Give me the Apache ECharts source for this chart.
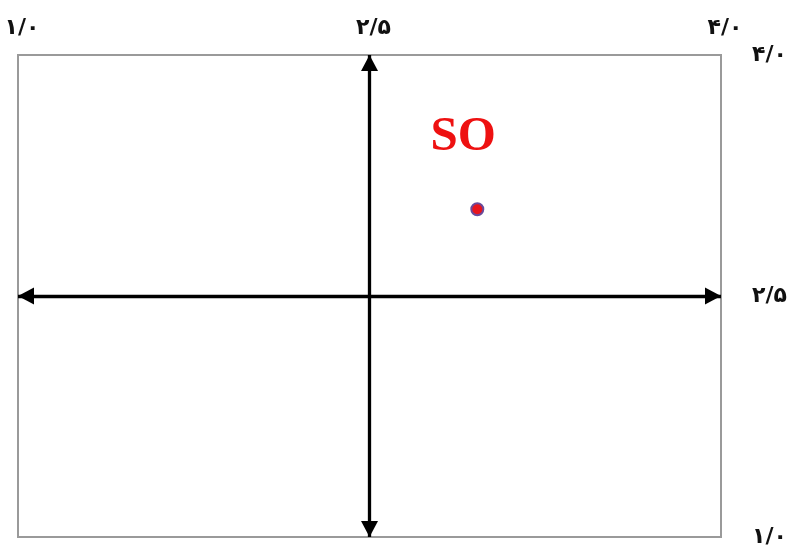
<!DOCTYPE html>
<html><head><meta charset="utf-8">
<script src="https://cdn.jsdelivr.net/npm/echarts@6/dist/echarts.min.js"></script>
<style>html,body{margin:0;padding:0;background:#fff}#c{width:790px;height:554px}</style>
</head><body><div id="c"></div>
<script>
const xTicks = [1.0, 2.5, 4.0];
const yTicks = [1.0, 2.5, 4.0];
const tickLabels = {"1": "۱/۰", "2.5": "۲/۵", "4": "۴/۰"};
const axisMin = 1.0, axisMax = 4.0;
const crossX = 2.5, crossY = 2.5;
const pointNames = ["SO"];
const pointX = [2.96];
const pointY = [3.04];

const fmt = v => tickLabels[String(+v)] || '';
const labelFont = {fontFamily: 'DejaVu Sans', fontWeight: 'bold', fontSize: 22, color: '#111'};
const arrowHead = 'path://M0,0 M0,10 L5,20 L-5,20 Z';

const chart = echarts.init(document.getElementById('c'), null, {renderer: 'canvas'});
chart.setOption({
  animation: false,
  grid: {left: 18, right: 69, top: 55, bottom: 17, outerBoundsMode: 'none', containLabel: false,
         show: true, borderColor: '#9a9a9a', borderWidth: 2, backgroundColor: '#fff'},
  xAxis: {
    type: 'value', position: 'top', min: axisMin, max: axisMax,
    axisLine: {show: false}, axisTick: {show: false}, splitLine: {show: false},
    axisLabel: Object.assign({customValues: xTicks, formatter: fmt, margin: 16, padding: [0, 0, 0, 8]}, labelFont)
  },
  yAxis: {
    type: 'value', position: 'right', min: axisMin, max: axisMax,
    axisLine: {show: false}, axisTick: {show: false}, splitLine: {show: false},
    axisLabel: Object.assign({customValues: yTicks, formatter: fmt, margin: 31, padding: [10, 0, 0, 0]}, labelFont)
  },
  series: [{
    type: 'scatter',
    data: pointX.map((x, i) => ({name: pointNames[i], value: [x, pointY[i]]})),
    symbolSize: 12,
    itemStyle: {color: '#e8141c', borderColor: '#6a4a9a', borderWidth: 2, opacity: 1},
    label: {
      show: true, formatter: '{b}', position: 'inside', offset: [-14, -72],
      fontFamily: 'Liberation Serif', fontWeight: 'bold', fontSize: 49, color: '#ee1111'
    },
    markLine: {
      silent: true, symbol: [arrowHead, arrowHead], symbolSize: [17, 32],
      lineStyle: {color: '#000', width: 3.3, type: 'solid'},
      itemStyle: {color: '#000'},
      label: {show: false},
      data: [
        [{coord: [axisMin, crossY]}, {coord: [axisMax, crossY]}],
        [{coord: [crossX, axisMin]}, {coord: [crossX, axisMax]}]
      ]
    }
  }]
});
</script></body></html>
